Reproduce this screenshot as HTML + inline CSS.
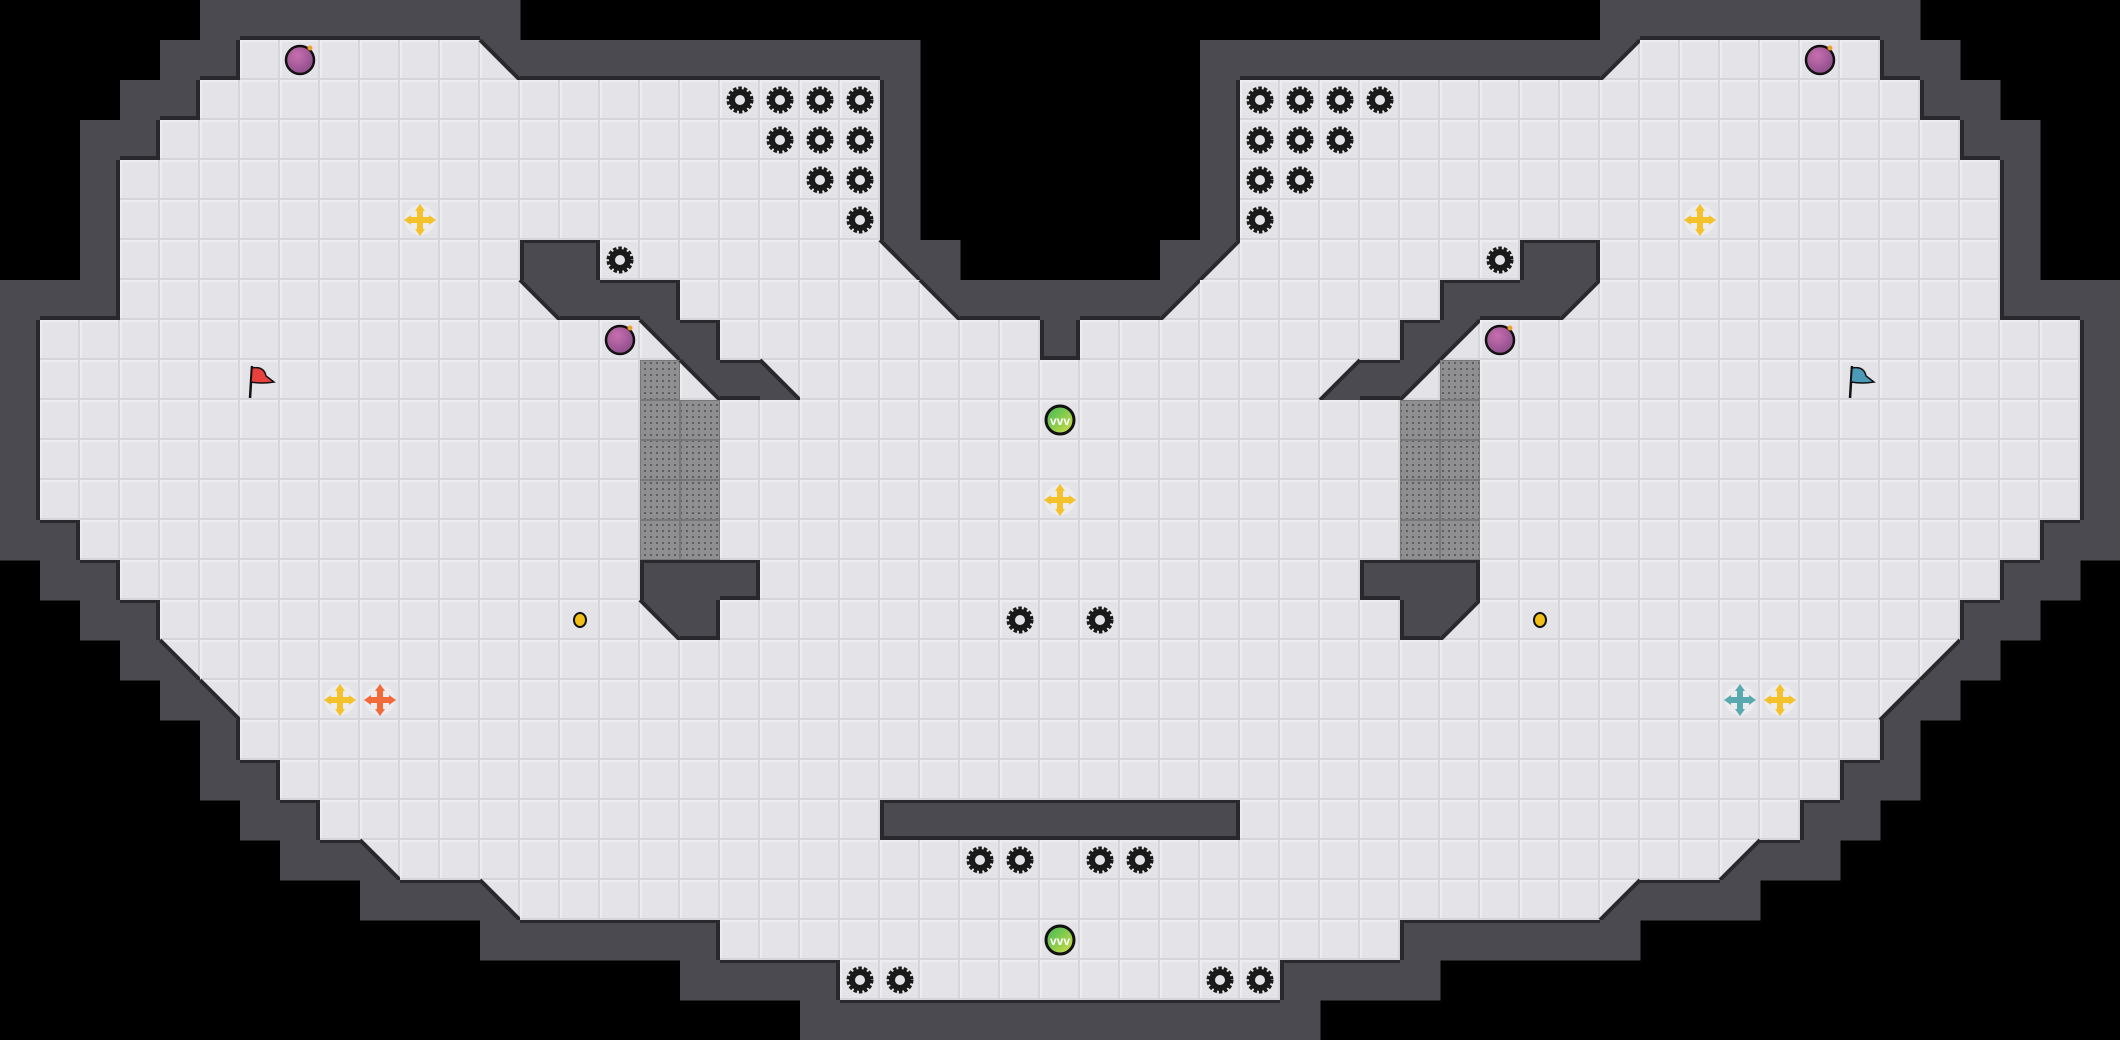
<!DOCTYPE html>
<html><head><meta charset="utf-8"><style>
html,body{margin:0;padding:0;background:#000;width:2120px;height:1040px;overflow:hidden}
svg{display:block}
</style></head><body>
<svg id="s" xmlns="http://www.w3.org/2000/svg" width="2120" height="1040" viewBox="0 0 2120 1040">
<defs>
<pattern id="fl" width="40" height="40" patternUnits="userSpaceOnUse">
<rect width="40" height="40" fill="#e4e4e8"/>
<rect x="0" y="0" width="40" height="2" fill="#ededf0"/>
<rect x="0" y="0" width="2" height="40" fill="#ededf0"/>
<rect x="0" y="38" width="40" height="2" fill="#d5d5da"/>
<rect x="38" y="0" width="2" height="40" fill="#d5d5da"/>
</pattern>
<pattern id="gt" width="6" height="6" patternUnits="userSpaceOnUse">
<rect width="6" height="6" fill="#8f8f91"/>
<rect x="2" y="2" width="2" height="2" fill="#5e5e60"/>
</pattern>
<radialGradient id="pb" cx="40%" cy="35%" r="70%"><stop offset="0" stop-color="#c86fb0"/><stop offset="1" stop-color="#8a4a86"/></radialGradient>
<linearGradient id="gb" x1="0" y1="0" x2="1" y2="1"><stop offset="0" stop-color="#3cb85a"/><stop offset="1" stop-color="#d8e040"/></linearGradient>
</defs>
<g id="map"></g>
<g id="items"></g>
</svg>
<script>
(function(){
var W=53,H=26,T=40;
var g=[];for(var r=0;r<H;r++){g.push([]);for(var c=0;c<W;c++)g[r].push('B');}
function set(r,a,b,t){for(var c=a;c<=b;c++){g[r][c]=t;}}
var L=[
[[5,12,'W']],
[[4,5,'W'],[6,11,'F'],[12,12,'TR'],[13,22,'W']],
[[3,4,'W'],[5,21,'F'],[22,22,'W']],
[[2,3,'W'],[4,21,'F'],[22,22,'W']],
[[2,2,'W'],[3,21,'F'],[22,22,'W']],
[[2,2,'W'],[3,21,'F'],[22,22,'W']],
[[2,2,'W'],[3,12,'F'],[13,14,'W'],[15,21,'F'],[22,22,'TR'],[23,23,'W']],
[[0,2,'W'],[3,12,'F'],[13,13,'TR'],[14,16,'W'],[17,22,'F'],[23,23,'TR'],[24,26,'W']],
[[0,0,'W'],[1,15,'F'],[16,16,'TR'],[17,17,'W'],[18,25,'F'],[26,26,'W']],
[[0,0,'W'],[1,15,'F'],[16,16,'G'],[17,17,'TR'],[18,18,'W'],[19,19,'BL'],[20,26,'F']],
[[0,0,'W'],[1,15,'F'],[16,17,'G'],[18,26,'F']],
[[0,0,'W'],[1,15,'F'],[16,17,'G'],[18,26,'F']],
[[0,0,'W'],[1,15,'F'],[16,17,'G'],[18,26,'F']],
[[0,1,'W'],[2,15,'F'],[16,17,'G'],[18,26,'F']],
[[1,2,'W'],[3,15,'F'],[16,18,'W'],[19,26,'F']],
[[2,3,'W'],[4,15,'F'],[16,16,'TR'],[17,17,'W'],[18,26,'F']],
[[3,3,'W'],[4,4,'BL'],[5,26,'F']],
[[4,4,'W'],[5,5,'BL'],[6,26,'F']],
[[5,5,'W'],[6,26,'F']],
[[5,6,'W'],[7,26,'F']],
[[6,7,'W'],[8,21,'F'],[22,26,'W']],
[[7,8,'W'],[9,9,'BL'],[10,26,'F']],
[[9,11,'W'],[12,12,'BL'],[13,26,'F']],
[[12,17,'W'],[18,26,'F']],
[[17,20,'W'],[21,26,'F']],
[[20,26,'W']]
];
var mir={TR:'TL',TL:'TR',BL:'BR',BR:'BL',W:'W',F:'F',G:'G',B:'B'};
for(var r=0;r<H;r++){L[r].forEach(function(s){set(r,s[0],s[1],s[2]);});
 for(var c=0;c<26;c++){g[r][52-c]=mir[g[r][c]];}}
var out=[];
var WALL='#4b4a50',EDGE='#29292d';
function isF(r,c){if(r<0||r>=H||c<0||c>=W)return false;var t=g[r][c];return t!='W'&&t!='B';}
for(var r=0;r<H;r++)for(var c=0;c<W;c++){
 var t=g[r][c],x=c*T,y=r*T;
 if(t=='B')continue;
 if(t=='F'){out.push('<rect x="'+x+'" y="'+y+'" width="40" height="40" fill="url(#fl)"/>');continue;}
 if(t=='G'){out.push('<rect x="'+x+'" y="'+y+'" width="40" height="40" fill="url(#gt)"/><rect x="'+(x+.5)+'" y="'+(y+.5)+'" width="39" height="39" fill="none" stroke="#777" stroke-width="1"/>');continue;}
 if(t=='W'){out.push('<rect x="'+x+'" y="'+y+'" width="40.5" height="40.5" fill="'+WALL+'"/>');continue;}
 // diagonal: floor under, wall triangle
 out.push('<rect x="'+x+'" y="'+y+'" width="40" height="40" fill="url(#fl)"/>');
 var p,l;
 var TL=[x,y],TR=[x+40,y],BL=[x,y+40],BR=[x+40,y+40];
 if(t=='TR'){p=[TL,TR,BR];l=[TL,BR];}
 if(t=='TL'){p=[TL,TR,BL];l=[TR,BL];}
 if(t=='BL'){p=[TL,BL,BR];l=[TL,BR];}
 if(t=='BR'){p=[TR,BR,BL];l=[TR,BL];}
 out.push('<polygon points="'+p.map(function(q){return q.join(',')}).join(' ')+'" fill="'+WALL+'"/>');
 out.push('<line x1="'+l[0][0]+'" y1="'+l[0][1]+'" x2="'+l[1][0]+'" y2="'+l[1][1]+'" stroke="'+EDGE+'" stroke-width="4"/>');
}
// edges for walls adjacent to floor
for(var r=0;r<H;r++)for(var c=0;c<W;c++){
 if(g[r][c]!='W')continue;var x=c*T,y=r*T;
 if(isF(r+1,c)&&g[r+1][c]!='TR'&&g[r+1][c]!='TL')out.push('<rect x="'+x+'" y="'+(y+36)+'" width="40" height="4" fill="'+EDGE+'"/>');
 if(isF(r-1,c)&&g[r-1][c]!='BR'&&g[r-1][c]!='BL')out.push('<rect x="'+x+'" y="'+y+'" width="40" height="3" fill="'+EDGE+'"/>');
 if(isF(r,c+1)&&g[r][c+1]!='TL'&&g[r][c+1]!='BL')out.push('<rect x="'+(x+36)+'" y="'+y+'" width="4" height="40" fill="'+EDGE+'"/>');
 if(isF(r,c-1)&&g[r][c-1]!='TR'&&g[r][c-1]!='BR')out.push('<rect x="'+x+'" y="'+y+'" width="4" height="40" fill="'+EDGE+'"/>');
}
document.getElementById('map').innerHTML=out.join('');
var it=[];
function cx(c){return c*T+20} function cy(r){return r*T+20}
function spike(c,r){var x=cx(c),y=cy(r);it.push('<circle cx="'+x+'" cy="'+y+'" r="11" fill="none" stroke="#1a1a1a" stroke-width="5" stroke-dasharray="3.2 1.8"/><circle cx="'+x+'" cy="'+y+'" r="8" fill="none" stroke="#1a1a1a" stroke-width="6"/>');}
function bomb(c,r){var x=cx(c),y=cy(r);it.push('<circle cx="'+x+'" cy="'+y+'" r="14" fill="url(#pb)" stroke="#111" stroke-width="2.5"/><circle cx="'+(x+10)+'" cy="'+(y-12)+'" r="2.5" fill="#f0a030"/>');}
function green(c,r){var x=cx(c),y=cy(r);it.push('<circle cx="'+x+'" cy="'+y+'" r="14" fill="url(#gb)" stroke="#111" stroke-width="3"/><text x="'+x+'" y="'+(y+5)+'" font-family="Liberation Sans,sans-serif" font-size="12" font-weight="bold" fill="#fff" text-anchor="middle">vvv</text>');}
function boost(c,r,col){var x=cx(c),y=cy(r);it.push('<circle cx="'+x+'" cy="'+y+'" r="15" fill="#ececef"/><g fill="'+col+'"><rect x="'+(x-3)+'" y="'+(y-12)+'" width="6" height="24"/><rect x="'+(x-12)+'" y="'+(y-3)+'" width="24" height="6"/><polygon points="'+x+','+(y-16)+' '+(x-5)+','+(y-9)+' '+(x+5)+','+(y-9)+'"/><polygon points="'+x+','+(y+16)+' '+(x-5)+','+(y+9)+' '+(x+5)+','+(y+9)+'"/><polygon points="'+(x-16)+','+y+' '+(x-9)+','+(y-5)+' '+(x-9)+','+(y+5)+'"/><polygon points="'+(x+16)+','+y+' '+(x+9)+','+(y-5)+' '+(x+9)+','+(y+5)+'"/></g>');}
function flag(c,r,col){var x=cx(c)-8,y=cy(r);it.push('<line x1="'+x+'" y1="'+(y-14)+'" x2="'+(x-2)+'" y2="'+(y+18)+'" stroke="#111" stroke-width="2.5"/><path d="M'+x+' '+(y-12)+' Q'+(x+12)+' '+(y-14)+' '+(x+14)+' '+(y-4)+' L'+(x+22)+' '+(y+2)+' Q'+(x+10)+' '+(y+4)+' '+(x-1)+' '+(y+2)+' Z" fill="'+col+'" stroke="#111" stroke-width="1.5"/>');}
function coin(c,r){it.push('<ellipse cx="'+cx(c)+'" cy="'+cy(r)+'" rx="6" ry="7" fill="#f2c014" stroke="#111" stroke-width="2"/>');}
var sp=[[18,2],[19,2],[20,2],[21,2],[19,3],[20,3],[21,3],[20,4],[21,4],[21,5],[15,6],[25,15],[24,21],[25,21],[21,24],[22,24]];
sp.forEach(function(s){spike(s[0],s[1]);spike(52-s[0],s[1]);});
bomb(7,1);bomb(45,1);bomb(15,8);bomb(37,8);
green(26,10);green(26,23);
boost(26,12,'#f6c22c');boost(10,5,'#f6c22c');boost(42,5,'#f6c22c');
boost(8,17,'#f6c22c');boost(9,17,'#f26a3a');boost(43,17,'#5aa8b0');boost(44,17,'#f6c22c');
flag(6,9,'#e8413c');flag(46,9,'#4a9ab8');
coin(14,15);coin(38,15);
document.getElementById('items').innerHTML=it.join('');
})();
</script>
</body></html>
